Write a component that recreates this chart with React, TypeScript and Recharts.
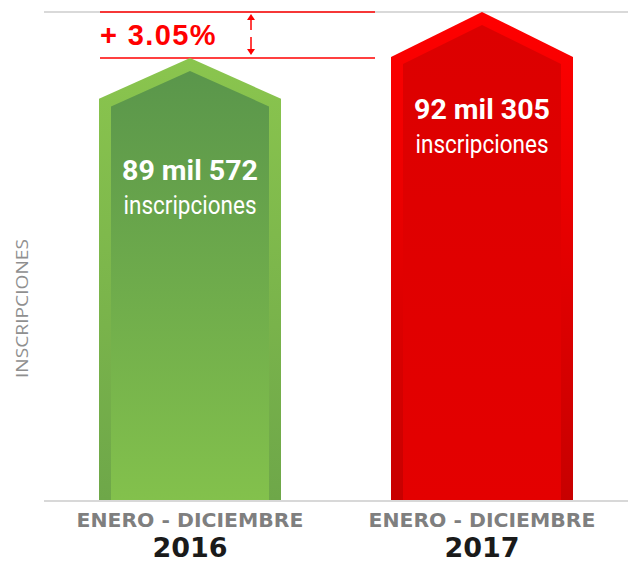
import { BarChart, Bar, XAxis, YAxis, CartesianGrid, ReferenceArea, LabelList } from "recharts";

const YEARS = ["2016", "2017"];
const PERIODS = ["ENERO - DICIEMBRE", "ENERO - DICIEMBRE"];
const INSCRIPCIONES = [89572, 92305];
const VALUE_LABELS = ["89 mil 572", "92 mil 305"];
const UNIT_LABEL = "inscripciones";
const Y_LABEL = "INSCRIPCIONES";
const CHANGE_LABEL = "+ 3.05%";

// axis does not start at zero in the original
const Y_MIN = 63260;
const Y_MAX = 92305;
const GRID_STEPS = 7;
const Y_TICKS = Array.from({ length: GRID_STEPS + 1 }, (_, i) => Y_MIN + ((Y_MAX - Y_MIN) * i) / GRID_STEPS);

const data = YEARS.map((year, i) => ({
  year,
  value: INSCRIPCIONES[i],
  label: VALUE_LABELS[i],
}));

const PALETTE = [
  { outerTop: "#8ac54e", outerBottom: "#6ea749", innerTop: "#5a964b", innerBottom: "#83c14c" },
  { outerTop: "#ff0000", outerBottom: "#c70000", innerTop: "#dc0000", innerBottom: "#e40000" },
];

const LABEL_DY = [122, 107];

function HouseBar(props: any) {
  const { x, y, width, height, payload } = props;
  const i = Math.max(0, YEARS.indexOf(payload?.year));
  const c = PALETTE[i];
  const bottom = y + height;
  const drop = height * 0.092;
  const slope = drop / (width / 2);
  const inset = 12;
  const innerTop = y + 13;
  const innerShoulder = innerTop + slope * (width / 2 - inset);
  const cx = x + width / 2;
  const outer = `${x},${bottom} ${x},${y + drop} ${cx},${y} ${x + width},${y + drop} ${x + width},${bottom}`;
  const inner = `${x + inset},${bottom} ${x + inset},${innerShoulder} ${cx},${innerTop} ${x + width - inset},${innerShoulder} ${x + width - inset},${bottom}`;
  return (
    <g>
      <defs>
        <linearGradient id={`outer-${i}`} x1="0" y1="0" x2="0" y2="1">
          <stop offset="0%" stopColor={c.outerTop} />
          <stop offset="100%" stopColor={c.outerBottom} />
        </linearGradient>
        <linearGradient id={`inner-${i}`} x1="0" y1="0" x2="0" y2="1">
          <stop offset="0%" stopColor={c.innerTop} />
          <stop offset="100%" stopColor={c.innerBottom} />
        </linearGradient>
      </defs>
      <polygon points={outer} fill={`url(#outer-${i})`} />
      <polygon points={inner} fill={`url(#inner-${i})`} />
    </g>
  );
}

function ValueLabel(props: any) {
  const { x, y, width, value } = props;
  const i = Math.max(0, VALUE_LABELS.indexOf(value));
  const cx = x + width / 2;
  const base = y + LABEL_DY[i];
  return (
    <g>
      <text x={cx} y={base} textAnchor="middle" fill="#fff" fontFamily="Roboto, sans-serif" fontWeight={700} fontSize={28} textLength={136} lengthAdjust="spacingAndGlyphs">
        {value}
      </text>
      <text x={cx} y={base + 34} textAnchor="middle" fill="#fff" fontFamily="Roboto, sans-serif" fontSize={25} textLength={133} lengthAdjust="spacingAndGlyphs">
        {UNIT_LABEL}
      </text>
    </g>
  );
}

function PeriodTick(props: any) {
  const { x, y, payload } = props;
  const i = Math.max(0, YEARS.indexOf(payload.value));
  return (
    <g>
      <text x={x} y={y + 26} textAnchor="middle" fill="#7f7f7f" fontFamily="DejaVu Sans, sans-serif" fontWeight={700} fontSize={19.5} textLength={227} lengthAdjust="spacingAndGlyphs">
        {PERIODS[i]}
      </text>
      <text x={x} y={y + 56} textAnchor="middle" fill="#1a1a1a" fontFamily="DejaVu Sans, sans-serif" fontWeight={700} fontSize={27}>
        {payload.value}
      </text>
    </g>
  );
}

function ChangeMarker(props: any) {
  const { x, y, height } = props;
  const x1 = x + 56;
  const x2 = x + 331;
  const ax = x + 207;
  const bottom = y + height;
  return (
    <g>
      <line x1={x1} x2={x2} y1={y} y2={y} stroke="#ff0000" strokeWidth={1.6} />
      <line x1={x1} x2={x2} y1={bottom} y2={bottom} stroke="#ff0000" strokeWidth={1.6} />
      <text x={x1} y={y + 33} fill="#ff0000" fontFamily="Liberation Sans, Arial, sans-serif" fontWeight={700} fontSize={29} letterSpacing={1.4}>
        {CHANGE_LABEL}
      </text>
      <line x1={ax} x2={ax} y1={y + 4} y2={y + 18} stroke="#ff0000" strokeWidth={1.5} />
      <polygon points={`${ax},${y + 2} ${ax - 4},${y + 8} ${ax + 4},${y + 8}`} fill="#ff0000" />
      <line x1={ax} x2={ax} y1={y + 25} y2={bottom - 5} stroke="#ff0000" strokeWidth={1.5} />
      <polygon points={`${ax},${bottom - 3} ${ax - 4},${bottom - 9} ${ax + 4},${bottom - 9}`} fill="#ff0000" />
    </g>
  );
}

function AxisTitle(props: any) {
  const { viewBox } = props;
  const cx = viewBox.x + 21;
  const cy = viewBox.y + viewBox.height / 2 + 52;
  return (
    <text x={cx} y={cy} transform={`rotate(-90 ${cx} ${cy})`} textAnchor="middle" dominantBaseline="central" fill="#8f8f8f" fontFamily="Open Sans, sans-serif" fontWeight={400} fontSize={17} textLength={139} lengthAdjust="spacingAndGlyphs">
      {Y_LABEL}
    </text>
  );
}

export default function App() {
  return (
    <div style={{ position: "absolute", left: 0, top: 0, width: 636, height: 562, background: "#fff" }}>
      <BarChart width={636} height={562} data={data} margin={{ top: 12, right: 8, bottom: 0, left: 0 }}>
        <CartesianGrid vertical={false} stroke="#cccccc" strokeWidth={1.4} />
        <XAxis dataKey="year" height={61} tickLine={false} tickSize={0} tickMargin={0} axisLine={{ stroke: "#d8d8d8", strokeWidth: 2 }} tick={<PeriodTick />} interval={0} />
        <YAxis type="number" domain={[Y_MIN, Y_MAX]} ticks={Y_TICKS} width={44} tick={false} tickLine={false} axisLine={false} label={<AxisTitle />} />
        <ReferenceArea y1={INSCRIPCIONES[0]} y2={INSCRIPCIONES[1]} shape={<ChangeMarker />} ifOverflow="visible" />
        <Bar dataKey="value" barSize={182} shape={<HouseBar />} isAnimationActive={false}>
          <LabelList dataKey="label" content={<ValueLabel />} />
        </Bar>
      </BarChart>
    </div>
  );
}
